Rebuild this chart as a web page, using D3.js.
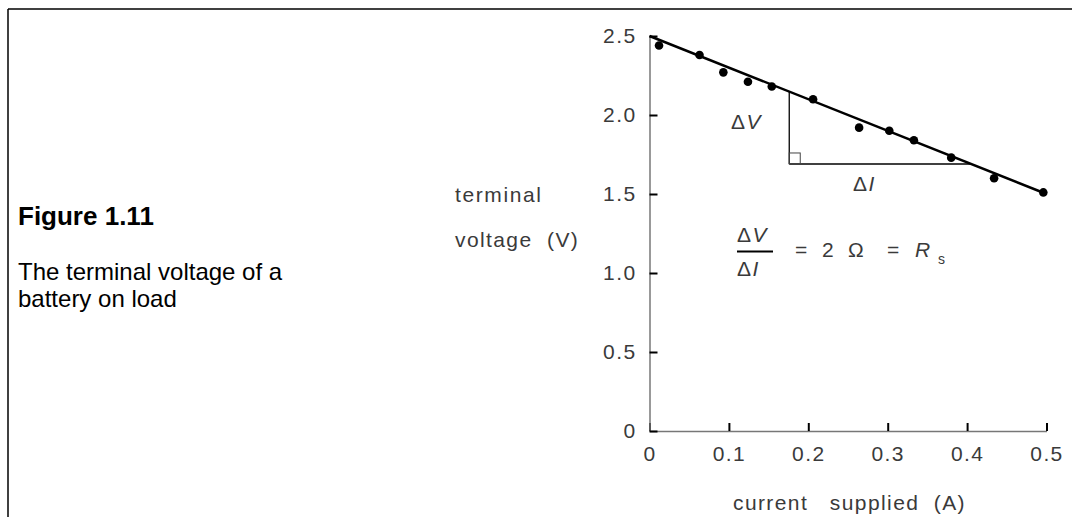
<!DOCTYPE html>
<html>
<head>
<meta charset="utf-8">
<script src="https://cdn.jsdelivr.net/npm/d3@7"></script>
<style>
  body { margin: 0; background: #fff; }
  svg { display: block; }
  .lbl { font-family: "Liberation Sans", Arial, sans-serif; fill: #3a3a3a; letter-spacing: 1.4px; }
</style>
</head>
<body>
<svg width="1072" height="517"></svg>
<script>
// measured points: current (A), terminal voltage (V)
const current = [0.012, 0.063, 0.093, 0.124, 0.154, 0.206, 0.264, 0.302, 0.333, 0.380, 0.434, 0.496];
const voltage = [2.44, 2.38, 2.27, 2.21, 2.18, 2.10, 1.92, 1.90, 1.84, 1.73, 1.60, 1.51];
// best fit line end points
const fitI = [0, 0.5];
const fitV = [2.5, 1.5];
const xTicks = [0, 0.1, 0.2, 0.3, 0.4, 0.5];
const yTicks = [0, 0.5, 1.0, 1.5, 2.0, 2.5];
// slope triangle: corner current, bottom voltage
const triI = [0.176, 0.405];
const triV = 1.69;

const svg = d3.select('svg');

// frame
svg.append('line').attr('x1', 8).attr('y1', 9).attr('x2', 1072).attr('y2', 9)
    .style('stroke', 'black').attr('stroke-width', 1.5);
svg.append('line').attr('x1', 8).attr('y1', 9).attr('x2', 8).attr('y2', 517)
    .style('stroke', 'black').attr('stroke-width', 1.5);

// caption
svg.append('text')
    .attr('x', 18).attr('y', 225)
    .style('font-family', '"Liberation Sans", Arial, sans-serif')
    .style('font-weight', 'bold').style('font-size', '26px')
    .text('Figure 1.11');
svg.append('text')
    .attr('x', 18).attr('y', 280)
    .style('font-family', '"Liberation Sans", Arial, sans-serif')
    .style('font-size', '24px')
    .text('The terminal voltage of a');
svg.append('text')
    .attr('x', 18).attr('y', 307)
    .style('font-family', '"Liberation Sans", Arial, sans-serif')
    .style('font-size', '24px')
    .text('battery on load');

const xScale = d3.scaleLinear().domain([0, 0.5]).range([649.5, 1046.5]);
const yScale = d3.scaleLinear().domain([0, 2.5]).range([431, 36]);

const fmt = d => d === 0 ? '0' : d3.format('.1f')(d);

const gx = svg.append('g').attr('transform', 'translate(0,' + yScale(0) + ')')
    .call(d3.axisBottom(xScale).tickValues(xTicks).tickFormat(fmt)
        .tickSizeInner(-8).tickSizeOuter(0).tickPadding(12));
const gy = svg.append('g').attr('transform', 'translate(' + xScale(0) + ',0)')
    .call(d3.axisLeft(yScale).tickValues(yTicks).tickFormat(fmt)
        .tickSizeInner(-8).tickSizeOuter(0).tickPadding(13));

[gx, gy].forEach(g => {
    g.select('.domain').style('stroke', '#777').attr('stroke-width', 1.5);
    g.selectAll('.tick line').style('stroke', 'black').attr('stroke-width', 2);
    g.selectAll('.tick text').attr('class', 'lbl')
        .style('font-size', '21px');
});
gx.selectAll('.tick text').attr('dy', '0.85em');

// axis titles
svg.append('text').attr('class', 'lbl').attr('x', 455).attr('y', 202)
    .style('font-size', '21px').style('letter-spacing', '1.6px').text('terminal');
svg.append('text').attr('class', 'lbl').attr('x', 455).attr('y', 247)
    .style('font-size', '21px').attr('xml:space', 'preserve').text('voltage  (V)');
svg.append('text').attr('class', 'lbl').attr('x', 733).attr('y', 510)
    .style('font-size', '21px').attr('xml:space', 'preserve').text('current   supplied  (A)');

// slope triangle
const topV = fitV[0] + (fitV[1] - fitV[0]) / (fitI[1] - fitI[0]) * triI[0];
svg.append('line')
    .attr('x1', xScale(triI[0])).attr('y1', yScale(topV))
    .attr('x2', xScale(triI[0])).attr('y2', yScale(triV))
    .style('stroke', 'black').attr('stroke-width', 1.3);
svg.append('line')
    .attr('x1', xScale(triI[0])).attr('y1', yScale(triV))
    .attr('x2', xScale(triI[1])).attr('y2', yScale(triV))
    .style('stroke', 'black').attr('stroke-width', 1.3);
svg.append('rect')
    .attr('x', xScale(triI[0])).attr('y', yScale(triV) - 11)
    .attr('width', 11).attr('height', 11)
    .attr('fill', 'none').style('stroke', '#444').attr('stroke-width', 1);

// fit line
svg.append('line')
    .attr('x1', xScale(fitI[0])).attr('y1', yScale(fitV[0]))
    .attr('x2', xScale(fitI[1])).attr('y2', yScale(fitV[1]))
    .style('stroke', 'black').attr('stroke-width', 2.5);

// points
svg.selectAll('circle.pt')
    .data(current.map((c, i) => ({ x: c, y: voltage[i] })))
    .enter().append('circle')
    .attr('class', 'pt')
    .attr('cx', d => xScale(d.x))
    .attr('cy', d => yScale(d.y))
    .attr('r', 4.3)
    .attr('fill', 'black');

// delta labels
const delta = (x, y, letter) => {
    const t = svg.append('text').attr('class', 'lbl').attr('x', x).attr('y', y)
        .style('font-size', '21px');
    t.append('tspan').text('\u0394');
    t.append('tspan').style('font-style', 'italic').text(letter);
};
delta(731, 129, 'V');
delta(853, 191, 'I');
delta(737, 242, 'V');
delta(737, 276, 'I');
svg.append('line').attr('x1', 737).attr('y1', 251.5).attr('x2', 773).attr('y2', 251.5)
    .style('stroke', 'black').attr('stroke-width', 2);

const eq = [['=', 795, 'normal'], ['2', 822, 'normal'], ['\u03A9', 848, 'normal'],
            ['=', 887, 'normal'], ['R', 915, 'italic']];
eq.forEach(e => {
    svg.append('text').attr('class', 'lbl').attr('x', e[1]).attr('y', 257)
        .style('font-size', '21px').style('font-style', e[2]).text(e[0]);
});
svg.append('text').attr('class', 'lbl').attr('x', 938).attr('y', 264)
    .style('font-size', '14px').text('s');
</script>
</body>
</html>
